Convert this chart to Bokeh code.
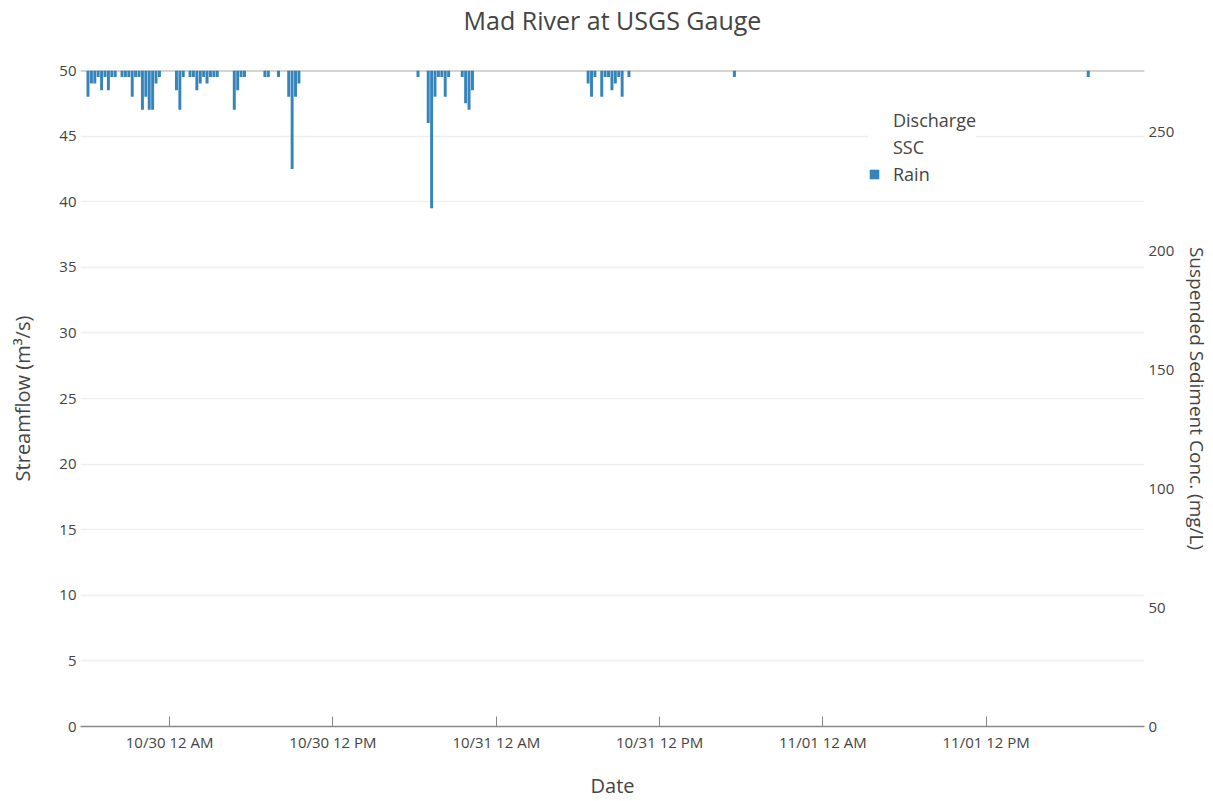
import pandas as pd
from bokeh.plotting import figure
from bokeh.models import (Range1d, LinearAxis, FixedTicker, DatetimeTickFormatter,
                          Legend, LegendItem, Span, ColumnDataSource)
from bokeh.embed import file_html
from bokeh.resources import INLINE

# 15-minute rainfall totals (inches); intervals with no rain are omitted
rain_time = [
    "2019-10-29 18:00", "2019-10-29 18:15", "2019-10-29 18:30", "2019-10-29 18:45",
    "2019-10-29 19:00", "2019-10-29 19:15", "2019-10-29 19:30", "2019-10-29 19:45",
    "2019-10-29 20:00", "2019-10-29 20:30", "2019-10-29 20:45", "2019-10-29 21:00",
    "2019-10-29 21:15", "2019-10-29 21:30", "2019-10-29 21:45", "2019-10-29 22:00",
    "2019-10-29 22:15", "2019-10-29 22:30", "2019-10-29 22:45", "2019-10-29 23:00",
    "2019-10-29 23:15",
    "2019-10-30 00:30", "2019-10-30 00:45", "2019-10-30 01:00", "2019-10-30 01:30",
    "2019-10-30 01:45", "2019-10-30 02:00", "2019-10-30 02:15", "2019-10-30 02:30",
    "2019-10-30 02:45", "2019-10-30 03:00", "2019-10-30 03:15", "2019-10-30 03:30",
    "2019-10-30 04:45", "2019-10-30 05:00", "2019-10-30 05:15", "2019-10-30 05:30",
    "2019-10-30 07:00", "2019-10-30 07:15", "2019-10-30 08:00", "2019-10-30 08:45",
    "2019-10-30 09:00", "2019-10-30 09:15", "2019-10-30 09:30",
    "2019-10-30 18:15", "2019-10-30 19:00", "2019-10-30 19:15", "2019-10-30 19:30",
    "2019-10-30 19:45", "2019-10-30 20:00", "2019-10-30 20:15", "2019-10-30 20:30",
    "2019-10-30 21:30", "2019-10-30 21:45", "2019-10-30 22:00", "2019-10-30 22:15",
    "2019-10-31 06:45", "2019-10-31 07:00", "2019-10-31 07:15", "2019-10-31 07:45",
    "2019-10-31 08:00", "2019-10-31 08:15", "2019-10-31 08:30", "2019-10-31 08:45",
    "2019-10-31 09:00", "2019-10-31 09:15", "2019-10-31 09:45",
    "2019-10-31 17:30",
    "2019-11-01 19:30",
]
rain_in = [
    0.04, 0.02, 0.02, 0.01,
    0.03, 0.01, 0.03, 0.01,
    0.01, 0.01, 0.01, 0.01,
    0.04, 0.01, 0.01, 0.06,
    0.04, 0.06, 0.06, 0.02,
    0.01,
    0.03, 0.06, 0.01, 0.01,
    0.01, 0.03, 0.02, 0.01,
    0.02, 0.01, 0.01, 0.01,
    0.06, 0.03, 0.01, 0.01,
    0.01, 0.01, 0.01, 0.04,
    0.15, 0.04, 0.02,
    0.01, 0.08, 0.21, 0.04,
    0.01, 0.01, 0.04, 0.01,
    0.01, 0.05, 0.06, 0.03,
    0.02, 0.04, 0.01, 0.04,
    0.01, 0.01, 0.03, 0.02,
    0.01, 0.04, 0.01,
    0.01,
    0.01,
]

# Discharge and SSC records for the window (none logged)
discharge_time, discharge_cms = [], []
ssc_time, ssc_mgl = [], []

date_ticks = ["2019-10-30 00:00", "2019-10-30 12:00", "2019-10-31 00:00",
              "2019-10-31 12:00", "2019-11-01 00:00", "2019-11-01 12:00"]
flow_ticks = [0, 5, 10, 15, 20, 25, 30, 35, 40, 45, 50]
ssc_ticks = [0, 50, 100, 150, 200, 250]

FONT = "Open Sans"
TXT = "#444444"
TICK_SIZE = "15px"
LABEL_SIZE = "20px"

x_start = pd.Timestamp("2019-10-29 17:27")
x_end = pd.Timestamp("2019-11-01 23:38")

p = figure(width=1213, height=801, x_axis_type="datetime",
           x_range=Range1d(x_start, x_end), y_range=Range1d(0, 50),
           output_backend="svg", toolbar_location=None,
           min_border_left=80, min_border_right=68,
           min_border_top=70, min_border_bottom=75)
p.outline_line_color = None
p.background_fill_color = "white"

p.extra_y_ranges = {
    "ssc": Range1d(0, 276),
    "rain": Range1d(1.0, 0.0),   # reversed: rain hangs from the top
}

# title, lifted clear of the plot area by bottom padding
p.title.text = "Mad River at USGS Gauge"
p.title.align = "center"
p.title.vertical_align = "bottom"
p.title.text_font = FONT
p.title.text_font_size = "25px"
p.title.text_font_style = "normal"
p.title.text_color = TXT
p.title.standoff = 0
p.title.padding = dict(left=0, right=0, top=0, bottom=34)


def style_axis(ax, label_size, label_standoff, tick_standoff):
    ax.axis_label_text_font = FONT
    ax.axis_label_text_font_size = label_size
    ax.axis_label_text_font_style = "normal"
    ax.axis_label_text_color = TXT
    ax.axis_label_standoff = label_standoff
    ax.major_label_text_font = FONT
    ax.major_label_text_font_size = TICK_SIZE
    ax.major_label_text_color = TXT
    ax.major_label_standoff = tick_standoff
    ax.minor_tick_line_color = None
    ax.minor_tick_out = 0
    ax.minor_tick_in = 0


# bottom date axis
xa = p.xaxis[0]
xa.ticker = FixedTicker(ticks=[pd.Timestamp(t).value // 10**6 for t in date_ticks])
fmt = "%m/%d %I %p"
xa.formatter = DatetimeTickFormatter(
    milliseconds=fmt, seconds=fmt, minsec=fmt, minutes=fmt, hourmin=fmt,
    hours=fmt, days=fmt, months=fmt, years=fmt)
xa.axis_label = "Date"
style_axis(xa, LABEL_SIZE, 17, 5)
xa.axis_line_color = "#888888"
xa.axis_line_width = 1.5
xa.major_tick_line_color = "#888888"
xa.major_tick_in = 10
xa.major_tick_out = 0

# left streamflow axis
ya = p.yaxis[0]
ya.ticker = FixedTicker(ticks=flow_ticks)
ya.axis_label = "Streamflow (m³/s)"
style_axis(ya, LABEL_SIZE, 20, 4)
ya.axis_line_color = None
ya.major_tick_line_color = None
ya.major_tick_out = 0
ya.major_tick_in = 0

# right SSC axis
ra = LinearAxis(y_range_name="ssc", ticker=FixedTicker(ticks=ssc_ticks),
                axis_label="Suspended Sediment Conc. (mg/L)")
style_axis(ra, "19px", 7, 4)
ra.axis_line_color = None
ra.major_tick_line_color = None
ra.major_tick_out = 0
ra.major_tick_in = 0
p.add_layout(ra, "right")

# grid
p.xgrid.grid_line_color = None
p.ygrid.ticker = FixedTicker(ticks=flow_ticks[1:-1])
p.ygrid.grid_line_color = "#eeeeee"
p.ygrid.grid_line_width = 1.5

# baseline of the rain bars along the top edge
p.add_layout(Span(location=0, dimension="width", y_range_name="rain",
                  line_color="#aaaaaa", line_width=2, level="underlay"))

# series
q = p.line(discharge_time, discharge_cms, line_color="#1f77b4", line_alpha=0)
s = p.line(ssc_time, ssc_mgl, y_range_name="ssc", line_color="#ff7f0e", line_alpha=0)

rain_src = ColumnDataSource(dict(t=pd.to_datetime(rain_time), v=rain_in))
r = p.vbar(x="t", top="v", bottom=0, width=13 * 60 * 1000, source=rain_src,
           y_range_name="rain", fill_color="#1f77b4", fill_alpha=0.9,
           line_color=None)

legend = Legend(items=[LegendItem(label="Discharge", renderers=[q]),
                       LegendItem(label="SSC", renderers=[s]),
                       LegendItem(label="Rain", renderers=[r])],
                location=(788, 540))
legend.label_text_font = FONT
legend.label_text_font_size = "18px"
legend.label_text_color = TXT
legend.label_height = 20
legend.glyph_height = 12
legend.glyph_width = 12
legend.label_standoff = 13
legend.spacing = 3
legend.padding = 10
legend.margin = 0
legend.border_line_color = None
legend.background_fill_color = "white"
legend.background_fill_alpha = 1.0
p.add_layout(legend, "center")

open("out.html", "w").write(file_html(p, INLINE))
